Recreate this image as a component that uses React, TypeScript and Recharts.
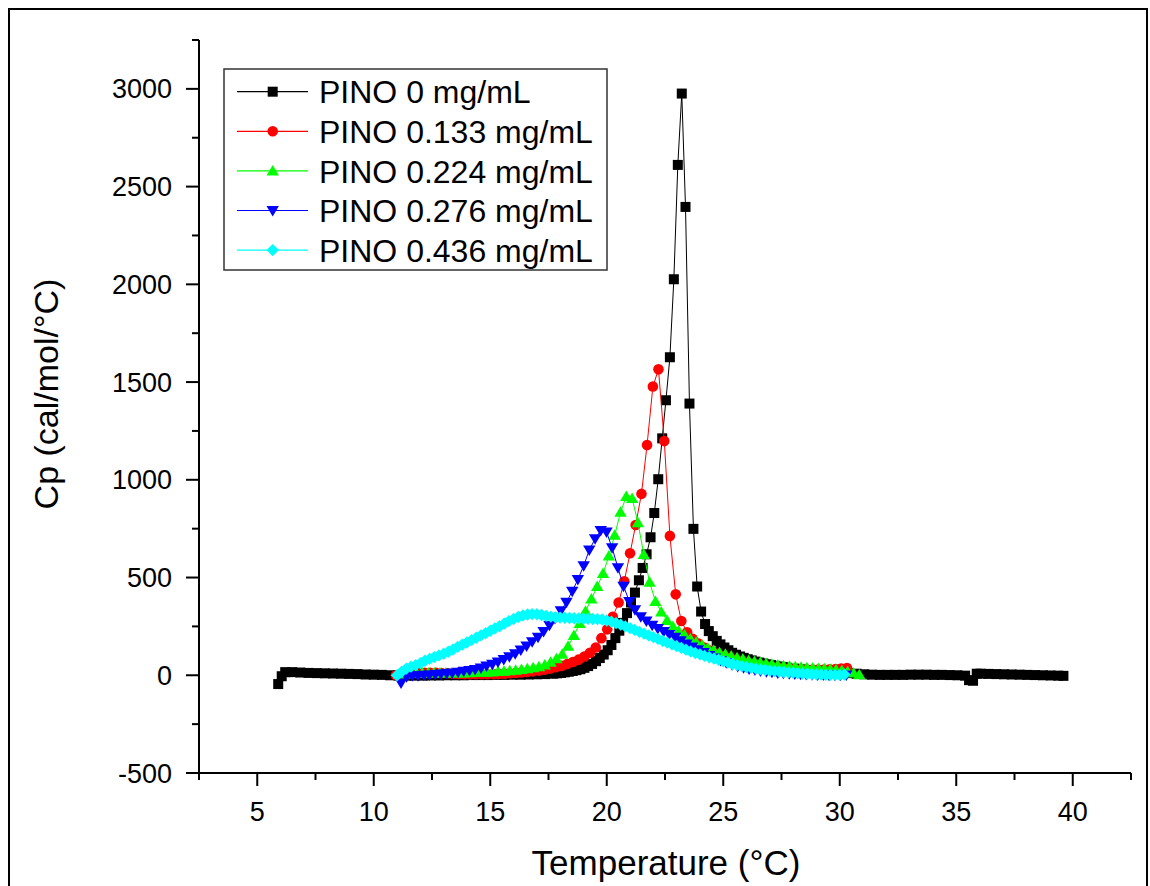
import { ScatterChart, Scatter, XAxis, YAxis, Legend } from "recharts"

const FONT = "'Liberation Sans', Arial, Helvetica, sans-serif"

// [temperature °C, Cp cal/mol/°C]
const pino0: [number, number][] = [
  [5.9,-45],[6.05,-5],[6.2,16],[6.5,16],[6.85,14],[7.2,12],[7.55,11],[7.9,10],[8.25,9],[8.6,8],
  [8.95,7],[9.3,6],[9.65,4],[10.0,3],[10.35,2],[10.7,0],[11.05,-1],[11.4,-2],[11.75,-2],[12.1,-2],
  [12.45,-1],[12.8,-1],[13.15,0],[13.5,0],[13.85,0],[14.2,1],[14.55,1],[14.9,1],[15.25,2],[15.6,2],
  [15.95,3],[16.3,3],[16.65,4],[17.0,5],[17.35,6],[17.7,8],[17.87,10],[18.04,12],[18.2,15],[18.37,18],
  [18.54,22],[18.7,26],[18.87,31],[19.04,38],[19.2,47],[19.37,58],[19.54,72],[19.7,88],[19.87,106],[20.04,128],
  [20.2,155],[20.37,190],[20.54,228],[20.7,268],[20.87,318],[21.04,372],[21.21,423],[21.38,486],[21.54,549],[21.71,619],
  [21.88,706],[22.04,830],[22.21,1003],[22.38,1212],[22.54,1407],[22.71,1627],[22.88,2026],[23.05,2611],[23.22,2976],[23.38,2396],
  [23.55,1390],[23.72,749],[23.88,454],[24.05,326],[24.22,262],[24.38,226],[24.55,200],[24.72,176],[24.88,158],[25.05,142],
  [25.22,128],[25.38,115],[25.55,105],[25.72,96],[25.88,89],[26.05,82],[26.22,76],[26.38,70],[26.55,65],[26.72,60],
  [26.88,56],[27.05,52],[27.22,48],[27.38,45],[27.55,42],[27.72,39],[28.05,34],[28.38,30],[28.72,26],[29.05,23],
  [29.38,20],[29.72,17],[30.05,14],[30.38,11],[30.72,8],[31.05,5],[31.38,3],[31.72,2],[32.05,2],[32.38,2],
  [32.72,2],[33.05,3],[33.38,3],[33.72,3],[34.05,2],[34.38,2],[34.72,1],[35.05,0],[35.38,-2],[35.55,-25],
  [35.72,-28],[35.88,8],[36.05,8],[36.38,7],[36.72,6],[37.05,5],[37.38,4],[37.72,3],[38.05,2],[38.38,1],
  [38.72,0],[39.05,-1],[39.38,-2],[39.6,-3],
]

const pino133: [number, number][] = [
  [10.95,0],[11.2,6],[11.44,9],[11.69,11],[11.93,12],[12.18,13],[12.42,13],[12.67,12],[12.91,11],[13.16,10],
  [13.4,8],[13.65,7],[13.89,6],[14.14,5],[14.38,5],[14.63,5],[14.87,5],[15.12,6],[15.36,7],[15.61,8],
  [15.85,10],[16.1,12],[16.34,14],[16.59,17],[16.83,20],[17.08,24],[17.32,28],[17.57,34],[17.81,41],[18.06,48],
  [18.3,57],[18.55,68],[18.79,80],[19.04,96],[19.28,115],[19.53,142],[19.77,190],[20.02,235],[20.26,299],[20.51,372],
  [20.75,481],[21.0,624],[21.24,769],[21.49,928],[21.73,1178],[21.98,1477],[22.22,1565],[22.47,1198],[22.71,713],[22.96,414],
  [23.2,278],[23.45,220],[23.69,186],[23.94,162],[24.18,142],[24.43,126],[24.67,112],[24.92,100],[25.16,90],[25.41,81],
  [25.65,73],[25.9,66],[26.14,60],[26.39,55],[26.63,50],[26.88,46],[27.12,42],[27.37,39],[27.61,36],[27.86,34],
  [28.1,32],[28.35,30],[28.59,29],[28.84,29],[29.08,29],[29.33,29],[29.57,30],[29.82,32],[30.06,35],[30.31,37],
]

const pino224: [number, number][] = [
  [11.09,5],[11.34,8],[11.59,10],[11.84,11],[12.09,12],[12.34,12],[12.59,12],[12.84,12],[13.09,12],[13.34,12],
  [13.59,12],[13.84,12],[14.09,13],[14.34,14],[14.59,15],[14.84,16],[15.09,17],[15.34,19],[15.59,21],[15.84,23],
  [16.09,26],[16.34,29],[16.59,33],[16.84,38],[17.09,44],[17.34,53],[17.59,66],[17.84,84],[18.09,108],[18.34,148],
  [18.59,203],[18.84,265],[19.09,328],[19.34,390],[19.59,454],[19.84,520],[20.09,610],[20.34,716],[20.59,834],[20.84,915],
  [21.09,904],[21.34,780],[21.59,618],[21.84,476],[22.09,378],[22.34,324],[22.59,280],[22.84,250],[23.09,226],[23.34,206],
  [23.59,186],[23.84,169],[24.09,153],[24.34,140],[24.59,127],[24.84,117],[25.09,107],[25.34,98],[25.59,90],[25.84,83],
  [26.09,76],[26.34,70],[26.59,65],[26.84,60],[27.09,56],[27.34,52],[27.59,49],[27.84,46],[28.09,43],[28.34,41],
  [28.59,39],[28.84,37],[29.09,35],[29.34,33],[29.59,31],[29.84,28],[30.09,24],[30.34,19],[30.59,12],[30.84,3],
]

const pino276: [number, number][] = [
  [11.17,-40],[11.41,-8],[11.66,-3],[11.9,-2],[12.15,0],[12.39,2],[12.64,4],[12.88,7],[13.13,9],[13.37,12],
  [13.62,16],[13.86,20],[14.11,25],[14.35,30],[14.6,37],[14.84,47],[15.09,56],[15.33,68],[15.58,81],[15.82,95],
  [16.07,110],[16.31,129],[16.56,150],[16.8,171],[17.05,195],[17.29,224],[17.54,256],[17.78,290],[18.03,330],[18.27,374],
  [18.52,430],[18.76,490],[19.01,560],[19.25,641],[19.5,698],[19.74,740],[19.99,733],[20.23,652],[20.48,550],[20.72,456],
  [20.97,378],[21.21,335],[21.46,300],[21.7,277],[21.95,256],[22.19,239],[22.44,224],[22.68,209],[22.93,194],[23.17,177],
  [23.42,160],[23.66,145],[23.91,130],[24.15,116],[24.4,101],[24.64,88],[24.89,75],[25.13,64],[25.38,54],[25.62,45],
  [25.87,38],[26.11,32],[26.36,27],[26.6,22],[26.85,18],[27.09,15],[27.34,12],[27.58,10],[27.83,8],[28.07,6],
  [28.32,5],[28.56,4],[28.81,3],[29.05,2],[29.3,1],[29.54,0],[29.79,0],[30.03,0],[30.28,1],
]

const pino436: [number, number][] = [
  [11.0,0],[11.2,18],[11.4,34],[11.6,44],[11.8,52],[12.0,62],[12.2,74],[12.4,84],[12.6,93],[12.8,102],
  [13.0,110],[13.2,120],[13.4,132],[13.6,145],[13.8,157],[14.0,168],[14.2,180],[14.4,192],[14.6,204],[14.8,215],
  [15.0,228],[15.2,240],[15.4,251],[15.6,264],[15.8,277],[16.0,288],[16.2,298],[16.4,306],[16.6,311],[16.8,313],
  [17.0,312],[17.2,308],[17.4,304],[17.6,300],[17.8,297],[18.0,295],[18.2,294],[18.4,293],[18.6,292],[18.8,291],
  [19.0,290],[19.2,289],[19.4,288],[19.6,287],[19.8,285],[20.0,280],[20.2,274],[20.4,267],[20.6,259],[20.8,250],
  [21.0,241],[21.2,232],[21.4,222],[21.6,213],[21.8,204],[22.0,195],[22.2,186],[22.4,176],[22.6,167],[22.8,158],
  [23.0,149],[23.2,140],[23.4,131],[23.6,122],[23.8,114],[24.0,107],[24.2,99],[24.4,92],[24.6,85],[24.8,79],
  [25.0,72],[25.2,65],[25.4,58],[25.6,52],[25.8,47],[26.0,42],[26.2,38],[26.4,34],[26.6,30],[26.8,27],
  [27.0,24],[27.2,21],[27.4,19],[27.6,17],[27.8,15],[28.0,13],[28.2,11],[28.4,9],[28.6,8],[28.8,6],
  [29.0,5],[29.2,4],[29.4,3],[29.6,2],[29.8,2],[30.0,2],[30.2,4],
]

const seriesNames = ["PINO 0 mg/mL", "PINO 0.133 mg/mL", "PINO 0.224 mg/mL", "PINO 0.276 mg/mL", "PINO 0.436 mg/mL"]
const seriesColors = ["#000000", "#ff0000", "#00ff00", "#0000ff", "#00ffff"]
const seriesMarkers = ["square", "circle", "triangle", "down", "diamond"]
const seriesData = [pino0, pino133, pino224, pino276, pino436]

const xTicks = [2.5, 5, 7.5, 10, 12.5, 15, 17.5, 20, 22.5, 25, 27.5, 30, 32.5, 35, 37.5, 40, 42.5]
const yTicks = [-500, -250, 0, 250, 500, 750, 1000, 1250, 1500, 1750, 2000, 2250, 2500, 2750, 3000, 3250]

function Marker({ kind, cx, cy, color }: { kind: string; cx: number; cy: number; color: string }) {
  if (kind === "square") return <rect x={cx - 5} y={cy - 5} width={10} height={10} fill={color} />
  if (kind === "circle") return <circle cx={cx} cy={cy} r={5.3} fill={color} />
  if (kind === "triangle")
    return <polygon points={`${cx},${cy - 6} ${cx + 6.2},${cy + 4.5} ${cx - 6.2},${cy + 4.5}`} fill={color} />
  if (kind === "down")
    return <polygon points={`${cx - 6.2},${cy - 4.5} ${cx + 6.2},${cy - 4.5} ${cx},${cy + 6}`} fill={color} />
  return <polygon points={`${cx},${cy - 6.2} ${cx + 6.2},${cy} ${cx},${cy + 6.2} ${cx - 6.2},${cy}`} fill={color} />
}

function XTick(props: any) {
  const { x, y, payload } = props
  const major = payload.value % 5 === 0
  return (
    <g>
      <line x1={x} y1={y} x2={x} y2={y + (major ? 13 : 7)} stroke="#000" strokeWidth={2} />
      {major && (
        <text x={x} y={y + 48} textAnchor="middle" fontSize={27} fontFamily={FONT} fill="#000">
          {payload.value}
        </text>
      )}
    </g>
  )
}

function YTick(props: any) {
  const { x, y, payload } = props
  const major = payload.value % 500 === 0
  return (
    <g>
      <line x1={x} y1={y} x2={x - (major ? 13 : 7)} y2={y} stroke="#000" strokeWidth={2} />
      {major && (
        <text x={x - 27} y={y + 9.5} textAnchor="end" fontSize={27} fontFamily={FONT} fill="#000">
          {payload.value}
        </text>
      )}
    </g>
  )
}

function LegendBox() {
  return (
    <svg width={386} height={204} style={{ display: "block" }}>
      <rect x={1} y={1} width={383} height={201} fill="#fff" stroke="#333" strokeWidth={1.5} />
      {seriesNames.map((name, i) => {
        const cy = 23.7 + i * 39.6
        return (
          <g key={name}>
            <line x1={14} y1={cy} x2={85} y2={cy} stroke={seriesColors[i]} strokeWidth={1.2} />
            <Marker kind={seriesMarkers[i]} cx={49.7} cy={cy} color={seriesColors[i]} />
            <text x={96} y={cy + 11.6} fontSize={32} fontFamily={FONT} fill="#000">
              {name}
            </text>
          </g>
        )
      })}
    </svg>
  )
}

export default function App() {
  return (
    <div style={{ position: "fixed", left: 8, top: 8, width: 1142, height: 878, overflow: "hidden", background: "#fff" }}>
      <div
        style={{
          position: "absolute",
          left: 0,
          top: 0,
          width: 1140,
          height: 920,
          border: "2px solid #000",
          boxSizing: "border-box",
        }}
      />
      <div style={{ position: "absolute", left: 0, top: 0 }}>
        <ScatterChart width={1142} height={878} margin={{ top: 32, right: 19, bottom: 83, left: 131 }}>
          <XAxis
            type="number"
            dataKey="x"
            domain={[2.5, 42.5]}
            ticks={xTicks}
            interval={0}
            allowDataOverflow
            tickLine={false}
            tickSize={0}
            tickMargin={0}
            tick={XTick}
            axisLine={{ stroke: "#000", strokeWidth: 2 }}
          />
          <YAxis
            type="number"
            dataKey="y"
            domain={[-500, 3250]}
            ticks={yTicks}
            interval={0}
            allowDataOverflow
            tickLine={false}
            tickSize={0}
            tickMargin={0}
            tick={YTick}
            axisLine={{ stroke: "#000", strokeWidth: 2 }}
          />
          <Legend
            layout="vertical"
            align="center"
            verticalAlign="middle"
            wrapperStyle={{ left: 215, top: 60, width: 386, height: 204 }}
            content={() => <LegendBox />}
          />
          {seriesData.map((data, i) => (
            <Scatter
              key={seriesNames[i]}
              name={seriesNames[i]}
              data={data.map(([x, y]) => ({ x, y }))}
              fill={seriesColors[i]}
              line={{ stroke: seriesColors[i], strokeWidth: 1 }}
              shape={(p: any) => <Marker kind={seriesMarkers[i]} cx={p.cx} cy={p.cy} color={seriesColors[i]} />}
              isAnimationActive={false}
            />
          ))}
        </ScatterChart>
      </div>
      <svg width={1142} height={878} style={{ position: "absolute", left: 0, top: 0, pointerEvents: "none" }}>
        <text x={50} y={386} transform="rotate(-90 50 386)" textAnchor="middle" fontSize={34} fontFamily={FONT} fill="#000">
          Cp (cal/mol/°C)
        </text>
        <text x={658} y={867} textAnchor="middle" fontSize={35} fontFamily={FONT} fill="#000">
          Temperature (°C)
        </text>
      </svg>
    </div>
  )
}
